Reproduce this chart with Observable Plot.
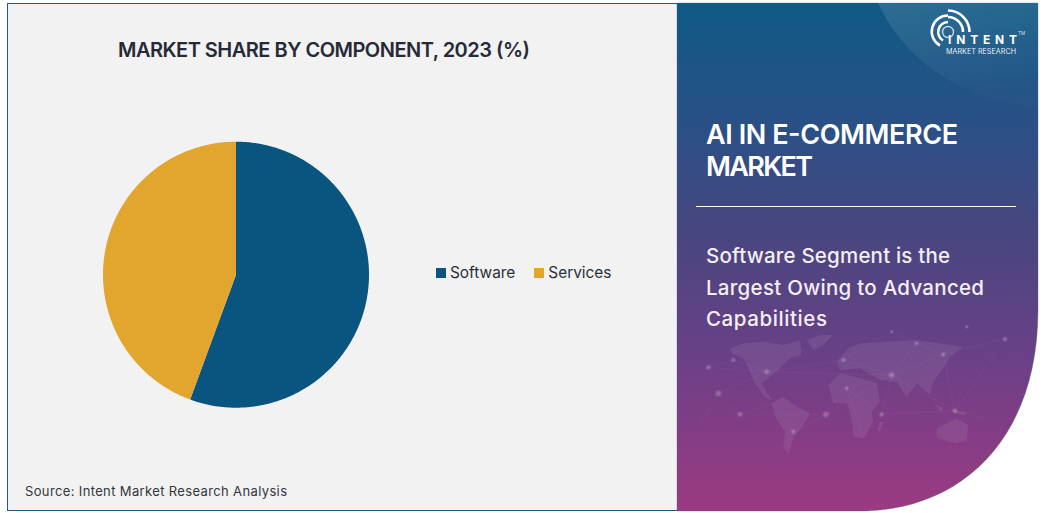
<!DOCTYPE html>
<html>
<head>
<meta charset="utf-8">
<script src="https://cdn.jsdelivr.net/npm/d3@7"></script>
<script src="https://cdn.jsdelivr.net/npm/@observablehq/plot@0.6"></script>
<style>
html,body{margin:0;padding:0;background:#fff;width:1043px;height:513px;overflow:hidden}
#stage{position:relative;width:1043px;height:513px}
#stage>svg,#stage>div{position:absolute;left:0;top:0}
.lg-swatch{margin-right:19px!important;color:#2b2f38}
.lg-swatch svg{margin-right:4px!important}
text{font-family:Inter,"Noto Sans",sans-serif}
</style>
</head>
<body>
<div id="stage">
<svg id="bg" width="1043" height="513" viewBox="0 0 1043 513">
  <defs>
    <linearGradient id="panel" x1="0" y1="0" x2="0" y2="1">
      <stop offset="0" stop-color="#0f5a85"/>
      <stop offset=".25" stop-color="#2b5086"/>
      <stop offset=".45" stop-color="#47467f"/>
      <stop offset=".7" stop-color="#6b4087"/>
      <stop offset="1" stop-color="#9c3a82"/>
    </linearGradient>
    <linearGradient id="swoosh" x1="0" y1="0" x2="0.35" y2="1">
      <stop offset="0" stop-color="#fff" stop-opacity=".12"/>
      <stop offset="1" stop-color="#fff" stop-opacity=".01"/>
    </linearGradient>
    <radialGradient id="glow"><stop offset="0" stop-color="#fff" stop-opacity=".28"/><stop offset="1" stop-color="#fff" stop-opacity=".02"/></radialGradient>
  </defs>
  <rect x="7.5" y="3.5" width="860" height="507" fill="#f2f2f2" stroke="#1f5a80" stroke-width="1"/>
  <path d="M677,3H1038V310C1038,440 960,511 860,511H677Z" fill="url(#panel)" stroke="#2a5a85" stroke-opacity=".35" stroke-width=".8"/>
  <path d="M878,3C900,50 950,100 1038,107V3Z" fill="url(#swoosh)"/>
  <g transform="translate(700,325) scale(.33333)">
    <g fill="#fff" fill-opacity=".075">
      <path d="M90,70L130,55 190,50 250,60 300,45 305,90 270,100 240,130 205,160 185,175 215,225 195,215 165,175 150,140 130,100 95,85Z"/>
      <path d="M320,45L360,30 400,30 370,60 340,75Z"/>
      <path d="M215,235L250,215 290,245 330,265 310,300 280,340 265,385 250,370 255,320 230,285Z"/>
      <path d="M445,70L480,55 560,50 650,45 790,65 750,95 730,130 700,170 690,210 650,175 620,215 590,170 540,165 480,130 420,135 410,110Z"/>
      <path d="M385,180L420,145 480,160 530,175 540,230 515,260 520,290 490,340 460,335 455,280 440,235 400,235Z"/>
      <path d="M710,310L770,280 805,300 800,345 770,355 710,340Z"/>
      <path d="M700,235L730,250 725,262ZM750,255L800,262 790,272ZM540,290L550,290 540,320 532,315Z"/>
    </g>
    <path d="M25,127L200,140 575,150 730,88 915,42M55,205L200,140 100,105 25,127M120,268L330,268 378,268 575,150 650,55 730,88M378,268L280,320 215,235 120,268M440,190L545,268 490,340 440,190 575,150 545,268 765,258 730,88M430,105L575,150 765,258 915,42M650,55L575,20 430,105 200,140M0,300L55,205 120,268M915,42L1000,170M765,258L850,280" fill="none" stroke="#fff" stroke-opacity=".07" stroke-width="1.6"/>
    <g fill="url(#glow)">
      <circle cx="25" cy="127" r="10"/><circle cx="55" cy="205" r="12"/><circle cx="120" cy="268" r="10"/><circle cx="100" cy="105" r="9"/>
      <circle cx="200" cy="140" r="11"/><circle cx="378" cy="268" r="12"/><circle cx="575" cy="150" r="12"/><circle cx="730" cy="88" r="9"/>
      <circle cx="915" cy="42" r="9"/><circle cx="765" cy="258" r="10"/><circle cx="545" cy="268" r="9"/><circle cx="440" cy="190" r="8"/>
      <circle cx="280" cy="320" r="9"/><circle cx="430" cy="105" r="9"/><circle cx="650" cy="55" r="8"/><circle cx="575" cy="20" r="7"/><circle cx="800" cy="5" r="7"/>
    </g>
  </g>
  <g fill="none" stroke="#fff" stroke-width="2.6" stroke-linecap="butt">
    <path d="M948,10.5A21.5,21.5 0 0 1 969.5,32"/>
    <path d="M948,17A15,15 0 0 1 963,32"/>
    <path d="M948,15.5A16,16 0 0 0 940,45.5"/>
    <path d="M948,22A10,10 0 0 0 943,40.5"/>
  </g>
  <circle cx="948" cy="32" r="5.5" fill="none" stroke="#fff" stroke-width="1.4" stroke-opacity=".75"/>
  <text id="t-logo1" x="948" y="43.8" font-size="12" font-weight="700" fill="#fff" textLength="69" lengthAdjust="spacing">INTENT</text>
  <text id="t-logo2" x="946" y="53.6" font-size="7" fill="#fff" fill-opacity=".92" textLength="70" lengthAdjust="spacingAndGlyphs">MARKET RESEARCH</text>
  <text x="1018" y="35" font-size="4.5" fill="#fff" fill-opacity=".8">TM</text>
  <text id="title" x="118" y="57" font-size="20" font-weight="600" fill="#262a36" textLength="412" lengthAdjust="spacing"></text>
  <text id="source" x="25" y="496" font-size="13" fill="#33363f" textLength="262" lengthAdjust="spacing"></text>
  <text id="h1" x="706" y="144" font-size="27" font-weight="600" fill="#fff" textLength="252" lengthAdjust="spacing"></text>
  <text id="h2" x="706" y="176" font-size="27" font-weight="600" fill="#fff" textLength="107" lengthAdjust="spacing"></text>
  <line x1="696" x2="1016" y1="206.5" y2="206.5" stroke="#fff" stroke-width="1"/>
  <text id="s1" x="706" y="263" font-size="20.5" font-weight="500" fill="#f4eef6" textLength="244" lengthAdjust="spacing"></text>
  <text id="s2" x="706" y="295" font-size="20.5" font-weight="500" fill="#f4eef6" textLength="278" lengthAdjust="spacing"></text>
  <text id="s3" x="706" y="326" font-size="20.5" font-weight="500" fill="#f4eef6" textLength="121" lengthAdjust="spacing"></text>
</svg>
</div>
<script>
const categories = ["Software", "Services"];
const shares = [55.6, 44.4];
const colors = ["#0a5480", "#e2a62e"];
const chartTitle = "MARKET SHARE BY COMPONENT, 2023 (%)";
const sourceNote = "Source: Intent Market Research Analysis";
const headingLines = ["AI IN E-COMMERCE", "MARKET"];
const calloutLines = ["Software Segment is the", "Largest Owing to Advanced", "Capabilities"];

d3.select("#title").text(chartTitle);
d3.select("#source").text(sourceNote);
headingLines.forEach((t,i)=>d3.select("#h"+(i+1)).text(t));
calloutLines.forEach((t,i)=>d3.select("#s"+(i+1)).text(t));

const W = 1043, H = 513, cx = 235.5, cy = 274.2, R = 133;
// wedge outlines derived from the shares, in unit-radius chart coordinates
const arcs = d3.pie().sort(null)(shares);
const wedges = arcs.flatMap((a,i)=>{
  const n = Math.ceil((a.endAngle-a.startAngle)*90);
  const pts = [{name:categories[i],u:0,v:0}];
  for(let k=0;k<=n;k++){
    const t = a.startAngle+(a.endAngle-a.startAngle)*k/n;
    pts.push({name:categories[i],u:Math.sin(t),v:Math.cos(t)});
  }
  pts.push({name:categories[i],u:0,v:0});
  return pts;
});

const plot = Plot.plot({
  width:W, height:H, margin:0,
  style:{background:"transparent"},
  x:{domain:[-cx/R,(W-cx)/R], range:[0,W], axis:null},
  y:{domain:[cy/R,-(H-cy)/R], range:[0,H], axis:null},
  color:{domain:categories, range:colors},
  marks:[
    Plot.line(wedges,{x:"u",y:"v",z:"name",fill:"name",stroke:null,curve:"linear"})
  ]
});
document.getElementById("stage").append(plot);

const legend = plot.legend("color",{
  swatchSize:10, className:"lg",
  style:{fontFamily:"Inter,'Noto Sans',sans-serif",fontSize:"15.4px",color:"#2b2f38"}
});
legend.style.left="436px"; legend.style.top="256px"; legend.style.margin="0";legend.style.position="absolute";
document.getElementById("stage").append(legend);
</script>
</body>
</html>
